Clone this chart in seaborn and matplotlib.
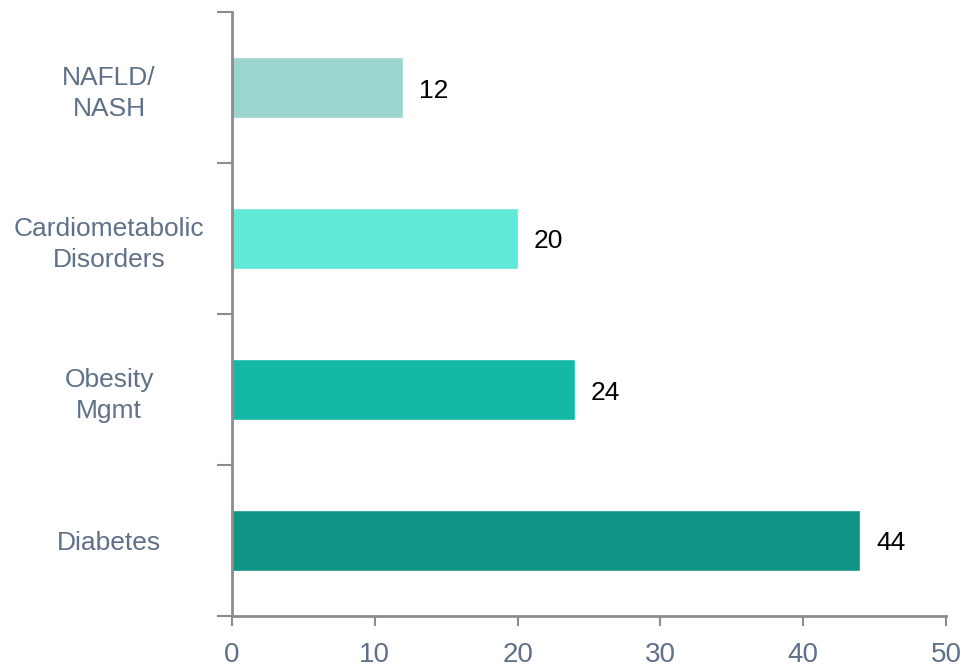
import matplotlib
matplotlib.use("Agg")
import matplotlib.pyplot as plt
import seaborn as sns
import pandas as pd
from matplotlib.ticker import FixedLocator

categories = ["NAFLD/\nNASH", "Cardiometabolic\nDisorders", "Obesity\nMgmt", "Diabetes"]
values = [12, 20, 24, 44]
colors = ["#9ad6cf", "#60e9d6", "#14b8a6", "#0e9384"]
xticks = [0, 10, 20, 30, 40, 50]

sns.set_theme(style="white")
plt.rcParams["font.family"] = ["Liberation Sans", "DejaVu Sans"]

df = pd.DataFrame({"cat": categories, "val": values})
fig = plt.figure(figsize=(9.65, 6.69), dpi=100)
ax = fig.add_axes([232/965, 53/669, (946-232)/965, (616-12)/669])
sns.barplot(data=df, y="cat", x="val", hue="cat", palette=colors, legend=False,
            width=0.4, ax=ax, saturation=1)

ax.set_xlim(0, 50)
ax.set_ylim(3.5, -0.5)
ax.set_xticks(xticks)
ax.set_xlabel("")
ax.set_ylabel("")
for s in ["top", "right"]:
    ax.spines[s].set_visible(False)
for s in ["left", "bottom"]:
    ax.spines[s].set_color("#8c8c8c")
    ax.spines[s].set_linewidth(2)

label_color = "#5f7088"
ax.tick_params(axis="x", which="major", length=7.5, width=1.5, color="#8c8c8c",
               labelsize=20, labelcolor=label_color, pad=11.5, direction="out", bottom=True)
ax.tick_params(axis="y", which="major", length=0, labelsize=19, labelcolor=label_color, pad=88.5)
ax.yaxis.set_minor_locator(FixedLocator([-0.5, 0.5, 1.5, 2.5, 3.5]))
ax.tick_params(axis="y", which="minor", length=11, width=1.5, color="#8c8c8c", left=True)
for lbl in ax.get_yticklabels():
    lbl.set_horizontalalignment("center")
    lbl.set_multialignment("center")
    lbl.set_linespacing(1.38)

for i, v in enumerate(values):
    ax.annotate(str(v), (v, i), xytext=(16, -3), textcoords="offset pixels",
                va="center", ha="left", fontsize=19, color="black")

fig.savefig("out.png", dpi=100)
